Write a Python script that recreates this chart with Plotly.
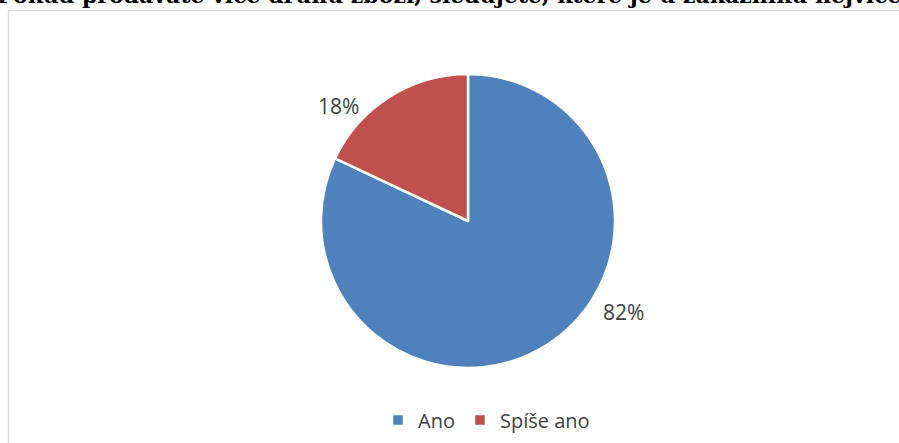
import plotly.graph_objects as go

# Survey answers and their shares (percent)
labels = ["Ano", "Spíše ano"]
shares = [82, 18]
colors = ["#4F81BD", "#C0504D"]

title_text = "Pokud prodáváte více druhů zboží, sledujete, které je u zákazníků nejvíce"

W, H = 899, 443
TEXT_FONT = "Open Sans, Lato, sans-serif"

# Pixel spots (from the top-left) where the percentage labels sit beside the pie
label_spots = {"Ano": (623, 312), "Spíše ano": (338, 106)}

fig = go.Figure(
    go.Pie(
        labels=labels,
        values=shares,
        sort=False,
        direction="clockwise",
        rotation=0,
        marker=dict(colors=colors, line=dict(color="white", width=2.5)),
        textinfo="none",
        domain=dict(x=[(468 - 147) / W, (468 + 147) / W], y=[1 - 368 / H, 1 - 74 / H]),
        hoverinfo="label+percent",
    )
)

annotations = [
    dict(
        text="<b>" + title_text + "</b>",
        xref="paper",
        yref="paper",
        x=0.5,
        xanchor="center",
        y=1 + 5 / H,
        yanchor="middle",
        showarrow=False,
        font=dict(family="DejaVu Serif, serif", size=22, color="black"),
    )
]
for lab, val in zip(labels, shares):
    px, py = label_spots[lab]
    annotations.append(
        dict(
            text=f"{val}%",
            xref="paper",
            yref="paper",
            x=px / W,
            y=1 - py / H,
            xanchor="center",
            yanchor="middle",
            showarrow=False,
            font=dict(family=TEXT_FONT, size=21, color="#404040"),
        )
    )

fig.update_layout(
    width=W,
    height=H,
    margin=dict(l=0, r=0, t=0, b=0),
    paper_bgcolor="white",
    plot_bgcolor="white",
    showlegend=True,
    legend=dict(
        orientation="h",
        x=378 / W,
        xanchor="left",
        y=1 - 420 / H,
        yanchor="middle",
        font=dict(family=TEXT_FONT, size=20, color="#404040"),
        itemwidth=30,
    ),
    shapes=[
        dict(
            type="rect",
            xref="paper",
            yref="paper",
            x0=8.5 / W,
            x1=1.2,
            y0=-0.2,
            y1=1 - 10.5 / H,
            line=dict(color="#D9D9D9", width=1.5),
            fillcolor="rgba(0,0,0,0)",
            layer="below",
        )
    ],
    annotations=annotations,
)

fig.write_html("out.html")
